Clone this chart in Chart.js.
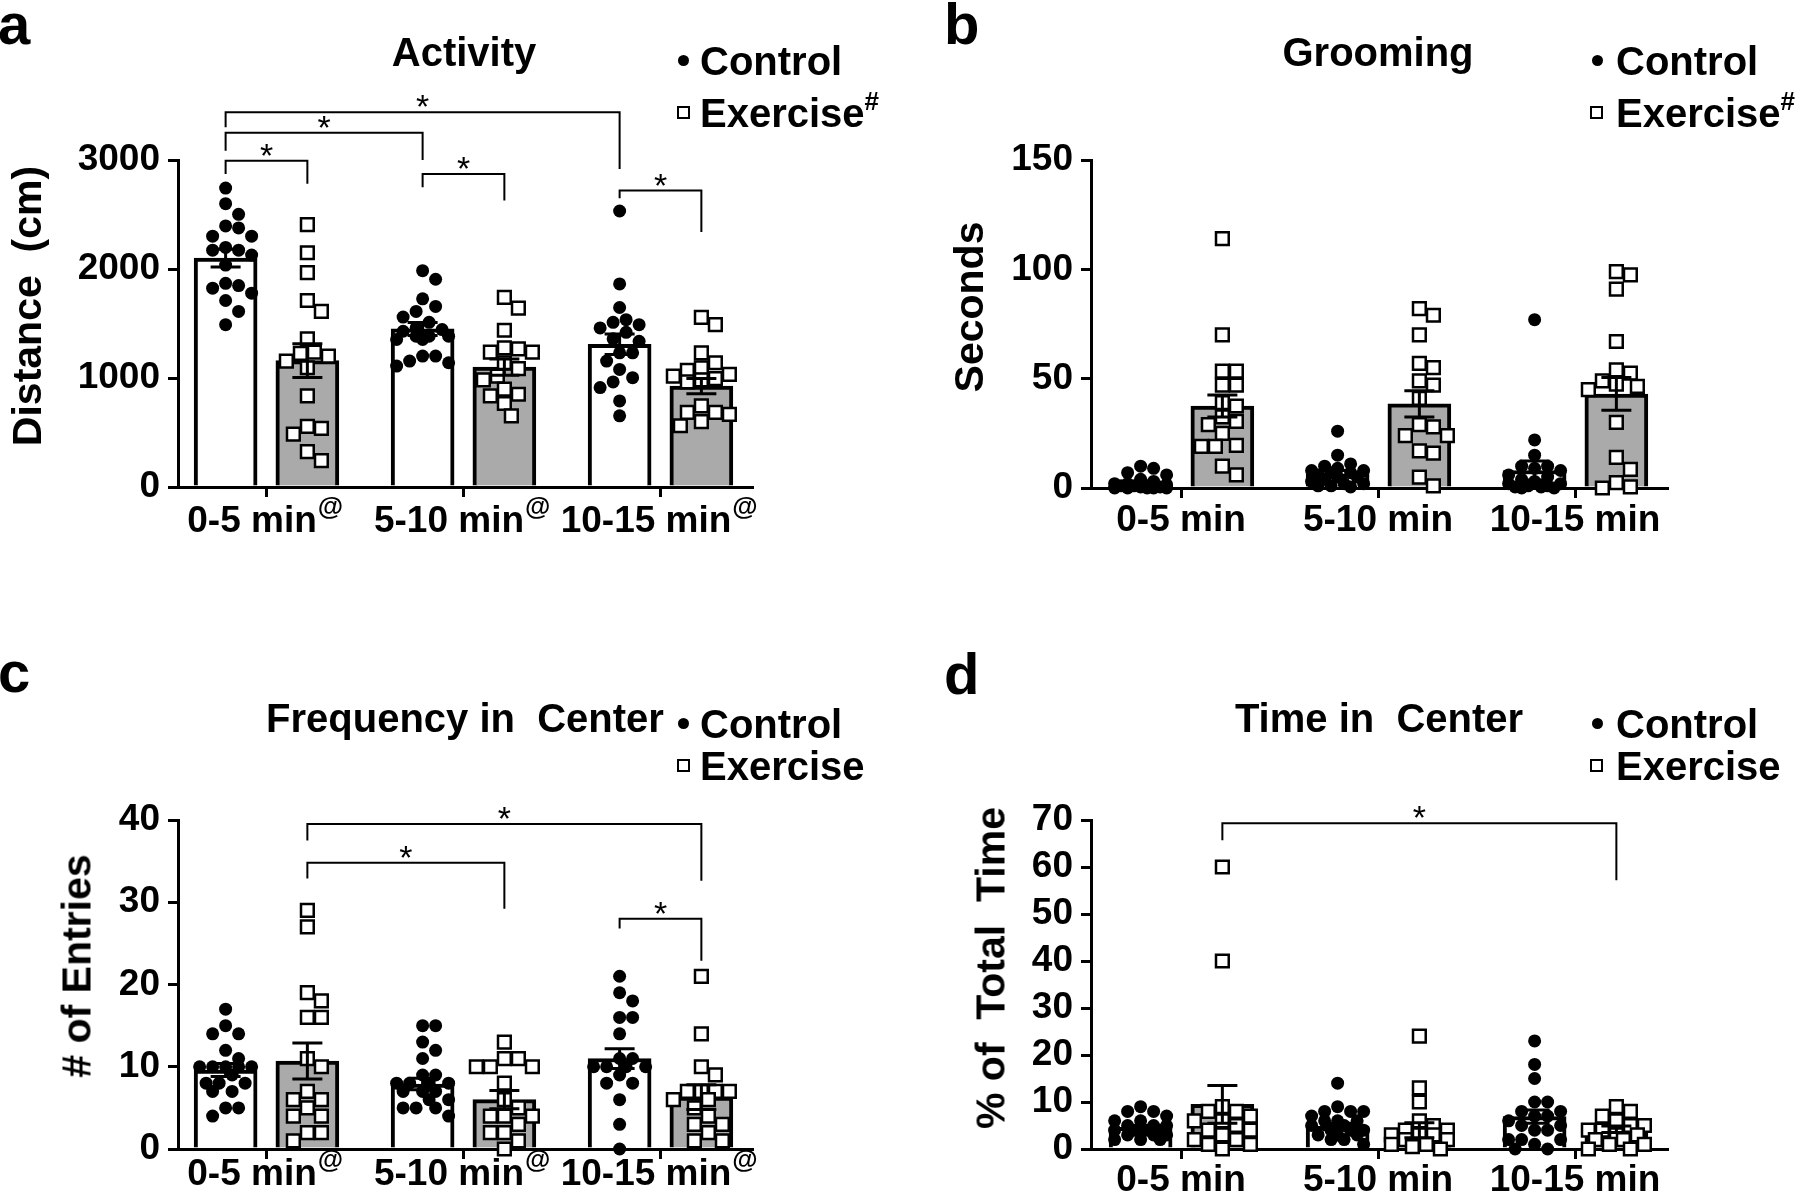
<!DOCTYPE html>
<html>
<head>
<meta charset="utf-8">
<script src="https://cdn.jsdelivr.net/npm/chart.js@4.4.0/dist/chart.umd.min.js"></script>
<style>
  body { margin: 0; background: #fff; }
  #page { position: relative; width: 1800px; height: 1196px; overflow: hidden;
          font-family: "Liberation Sans", Arial, sans-serif; font-weight: bold; color: #000; }
  .panel { position: absolute; }
  .txt { position: absolute; white-space: pre; line-height: 1; }
  .letter { font-size: 58px; }
  .title { font-size: 40px; transform: translateX(-50%); }
  .leg { font-size: 40px; }
  .ytitle { font-size: 41px; transform: translate(-50%, -50%) rotate(-90deg); }
  .sup { font-size: 26px; position: relative; top: -17px; }
  .dot { position: absolute; width: 11px; height: 11px; border-radius: 50%; background: #000; }
  .sq { position: absolute; width: 9px; height: 9px; border: 2px solid #000; background: #fff; }
</style>
</head>
<body>
<div id="page">
  <div class="panel" style="left:0;top:0"><canvas id="chartA" width="900" height="600"></canvas></div>
  <div class="panel" style="left:900px;top:0"><canvas id="chartB" width="900" height="600"></canvas></div>
  <div class="panel" style="left:0;top:640px"><canvas id="chartC" width="900" height="556"></canvas></div>
  <div class="panel" style="left:900px;top:640px"><canvas id="chartD" width="900" height="556"></canvas></div>

  <div class="txt letter" style="left:-2px;top:-5px">a</div>
  <div class="txt letter" style="left:944px;top:-5px">b</div>
  <div class="txt letter" style="left:-2px;top:643px">c</div>
  <div class="txt letter" style="left:944px;top:645px">d</div>

  <div class="txt title" style="left:464px;top:32px">Activity</div>
  <div class="txt title" style="left:1378px;top:32px">Grooming</div>
  <div class="txt title" style="left:465px;top:698px">Frequency in  Center</div>
  <div class="txt title" style="left:1379px;top:698px">Time in  Center</div>

  <div class="dot" style="left:678px;top:55px"></div>
  <div class="txt leg" style="left:700px;top:41px">Control</div>
  <div class="sq" style="left:677px;top:106px"></div>
  <div class="txt leg" style="left:700px;top:93px">Exercise<span class="sup">#</span></div>

  <div class="dot" style="left:1592px;top:55px"></div>
  <div class="txt leg" style="left:1616px;top:41px">Control</div>
  <div class="sq" style="left:1590px;top:106px"></div>
  <div class="txt leg" style="left:1616px;top:93px">Exercise<span class="sup">#</span></div>

  <div class="dot" style="left:678px;top:718px"></div>
  <div class="txt leg" style="left:700px;top:704px">Control</div>
  <div class="sq" style="left:677px;top:759px"></div>
  <div class="txt leg" style="left:700px;top:746px">Exercise</div>

  <div class="dot" style="left:1592px;top:718px"></div>
  <div class="txt leg" style="left:1616px;top:704px">Control</div>
  <div class="sq" style="left:1590px;top:759px"></div>
  <div class="txt leg" style="left:1616px;top:746px">Exercise</div>

  <div class="txt ytitle" style="left:27px;top:306px">Distance  (cm)</div>
  <div class="txt ytitle" style="left:969px;top:307px">Seconds</div>
  <div class="txt ytitle" style="left:77px;top:966px"># of Entries</div>
  <div class="txt ytitle" style="left:991px;top:968px">% of  Total  Time</div>
</div>

<script>
// categories
var groups = ['0-5 min', '5-10 min', '10-15 min'];
var groupPos = [1, 2, 3];

// a - Activity, distance (cm)
var activityControl = [
    [2742, 2599, 2502, 2395, 2377, 2301, 2301, 2198, 2173, 2173, 2128, 2036, 1869, 1848, 1824, 1778, 1711, 1611, 1489],
    [1985, 1906, 1726, 1657, 1611, 1559, 1511, 1460, 1444, 1429, 1383, 1383, 1383, 1353, 1353, 1201, 1201, 1155, 1140, 1109],
    [2532, 1863, 1647, 1535, 1511, 1489, 1459, 1419, 1359, 1337, 1231, 1231, 1155, 1079, 1003, 964, 912, 790, 653]
];
var activityExercise = [
    [2407, 2149, 1967, 1711, 1611, 1359, 1237, 1225, 1200, 1155, 1094, 836, 556, 538, 486, 325, 243],
    [1739, 1641, 1438, 1277, 1267, 1237, 1237, 1140, 1085, 1018, 982, 897, 851, 836, 766, 653],
    [1556, 1489, 1231, 1140, 1094, 1070, 1033, 1018, 994, 982, 964, 745, 684, 684, 666, 599, 562]
];
var activityControlMean = [2100, 1450, 1310];
var activityControlSem = [82, 60, 94];
var activityExerciseMean = [1160, 1100, 925];
var activityExerciseSem = [155, 75, 70];
var activityTicks = [0, 1000, 2000, 3000];
// [from bar, to bar, bracket level, left leg end, right leg end]
var activityBrackets = [
    [0, 4, 3438, 3300, 2918],
    [0, 2, 3250, 3085, 3000],
    [0, 1, 2994, 2872, 2781],
    [2, 3, 2872, 2751, 2629],
    [4, 5, 2720, 2650, 2340]
];

// b - Grooming, seconds
var groomControl = [
    [10, 9, 7, 6, 4, 3, 2, 2, 1.5, 1, 1, 1, 0.5, 0.5, 0, 0, 0, 0, 0],
    [26, 15, 11, 10, 9, 8, 8, 7, 7, 6, 5, 5, 4, 3, 2, 2, 1, 1, 0.5],
    [77, 22, 15, 10, 10, 9, 8, 6, 5, 4, 3, 2, 2, 1, 1, 0.5, 0.5, 0, 0]
];
var groomExercise = [
    [114, 70, 53.5, 53.5, 47, 47, 39, 37.5, 32.5, 30.5, 29, 25, 19.5, 19, 19, 10, 6],
    [82, 79, 70, 57, 55, 49, 47, 41, 29, 28, 24, 24, 17, 16, 5, 1],
    [99, 97.5, 91, 67, 54, 52.5, 49, 47.5, 46.5, 45, 30, 14, 8.5, 2.5, 0.5, 0]
];
var groomControlMean = [2.2, 6.5, 8];
var groomControlSem = [0.7, 1.5, 4.3];
var groomExerciseMean = [37.5, 38.5, 43];
var groomExerciseSem = [5, 6, 7.5];
var groomTicks = [0, 50, 100, 150];

// c - Frequency in center, # of entries
var freqControl = [
    [17, 15, 14, 14, 12, 11, 10, 10, 10, 10, 10, 9, 8, 8, 8, 7, 7, 5, 5, 4],
    [15, 15, 13, 12, 11, 9, 9, 8, 8, 8, 8, 7, 7, 7, 6, 6, 5, 5, 5, 4],
    [21, 19, 18, 16, 16, 14, 11, 11, 10, 10, 10, 10, 9, 8, 8, 6, 3, 0]
];
var freqExercise = [
    [29, 27, 19, 18, 16, 16, 11, 10, 7, 6, 6, 5, 4, 4, 2, 2, 1],
    [13, 11, 11, 10, 10, 10, 8, 6, 5, 4, 4, 4, 3, 2, 2, 1, 0],
    [21, 14, 10, 9, 7, 7, 7, 7, 6, 6, 5, 4, 3, 3, 2, 1, 1]
];
var freqControlMean = [9.6, 7.9, 11.0];
var freqControlSem = [0.8, 0.7, 1.2];
var freqExerciseMean = [10.7, 6.0, 6.3];
var freqExerciseSem = [2.2, 1.1, 1.5];
var freqTicks = [0, 10, 20, 30, 40];
var freqBrackets = [
    [1, 5, 39.5, 37.5, 32.6],
    [1, 3, 34.8, 32.9, 29.2],
    [4, 5, 28.0, 26.8, 22.9]
];

// d - Time in center, % of total time
var timeControl = [
    [9, 8, 8, 7, 6, 6, 5, 5, 5, 4, 4, 4, 4, 4, 3, 3, 3, 2, 2, 2],
    [14, 9, 8, 8, 8, 7, 6, 6, 6, 5, 5, 4, 4, 4, 3, 3, 3, 2, 2, 1],
    [23, 18, 15, 10, 10, 8, 8, 7, 7, 6, 5, 5, 4, 4, 2, 2, 2, 1, 0, 0]
];
var timeExercise = [
    [60, 40, 9, 8, 8, 7, 6, 6, 5, 4, 4, 3, 2, 2, 1, 1, 0],
    [24, 13, 10, 6, 5, 4, 4, 3, 3, 3, 2, 2, 1, 1, 0.5, 0],
    [9, 8, 7, 6, 5, 5, 4, 4, 3, 3, 2, 2, 1, 1, 0, 0]
];
var timeControlMean = [4.6, 4.8, 6.9];
var timeControlSem = [0.4, 0.7, 1.4];
var timeExerciseMean = [9.5, 4.0, 4.2];
var timeExerciseSem = [4.0, 1.6, 0.7];
var timeTicks = [0, 10, 20, 30, 40, 50, 60, 70];
var timeBrackets = [
    [1, 5, 69.3, 65.7, 57.2]
];

// layout
var CTRL_OFF = -0.205;
var EX_OFF = 0.21;
var GROUP_PX = 197;
var FONT = '"Liberation Sans", Arial, sans-serif';

Chart.defaults.font.family = FONT;
Chart.defaults.color = '#000';

function barX(b) {
    return groupPos[Math.floor(b / 2)] + (b % 2 === 0 ? CTRL_OFF : EX_OFF);
}

// simple beeswarm so points of equal value sit side by side
function swarm(vals, pxPerUnit, size, maxHalf) {
    var placed = [];
    var offs = new Array(vals.length);
    var order = vals.map(function (v, i) { return i; })
        .sort(function (a, b) { return vals[b] - vals[a]; });
    var step = size / 2;
    order.forEach(function (i) {
        var y = vals[i] * pxPerUnit;
        var best = 0, bestGap = -1, done = false;
        for (var k = 0; k * step <= maxHalf && !done; k++) {
            var cands = k === 0 ? [0] : [k * step, -k * step];
            for (var c = 0; c < cands.length; c++) {
                var x = cands[c];
                var gap = Infinity;
                placed.forEach(function (p) {
                    gap = Math.min(gap, Math.hypot(p.x - x, p.y - y));
                });
                if (gap >= size) { best = x; done = true; break; }
                if (gap > bestGap) { bestGap = gap; best = x; }
            }
        }
        offs[i] = best;
        placed.push({x: best, y: y});
    });
    return offs;
}

function pointsFor(lists, off, pxPerUnit, size) {
    var out = [];
    lists.forEach(function (vals, g) {
        var offs = swarm(vals, pxPerUnit, size, 28);
        vals.forEach(function (v, i) {
            out.push({x: groupPos[g] + off + offs[i] / GROUP_PX, y: v});
        });
    });
    return out;
}

function extrasPlugin(p) {
    return {
        id: 'extras' + p.id,
        afterDatasetsDraw: function (chart) {
            var ctx = chart.ctx, xs = chart.scales.x, ys = chart.scales.y;
            ctx.save();
            ctx.strokeStyle = '#000';
            ctx.lineWidth = 3;
            [[p.cMean, p.cSem, CTRL_OFF], [p.eMean, p.eSem, EX_OFF]].forEach(function (s) {
                s[0].forEach(function (m, i) {
                    var px = xs.getPixelForValue(groupPos[i] + s[2]);
                    var hi = ys.getPixelForValue(m + s[1][i]);
                    var lo = ys.getPixelForValue(Math.max(0, m - s[1][i]));
                    ctx.beginPath();
                    ctx.moveTo(px, hi); ctx.lineTo(px, lo);
                    ctx.moveTo(px - 15, hi); ctx.lineTo(px + 15, hi);
                    ctx.moveTo(px - 15, lo); ctx.lineTo(px + 15, lo);
                    ctx.stroke();
                });
            });
            // significance brackets
            ctx.lineWidth = 2;
            ctx.fillStyle = '#000';
            ctx.font = '34px ' + FONT;
            ctx.textAlign = 'center';
            ctx.textBaseline = 'alphabetic';
            (p.brackets || []).forEach(function (b) {
                var xa = xs.getPixelForValue(barX(b[0]));
                var xb = xs.getPixelForValue(barX(b[1]));
                var yl = ys.getPixelForValue(b[2]);
                ctx.beginPath();
                ctx.moveTo(xa, ys.getPixelForValue(b[3]));
                ctx.lineTo(xa, yl);
                ctx.lineTo(xb, yl);
                ctx.lineTo(xb, ys.getPixelForValue(b[4]));
                ctx.stroke();
                ctx.fillText('*', (xa + xb) / 2, yl + 6);
            });
            ctx.restore();
        },
        afterDraw: function (chart) {
            if (!p.sup) return;
            var ctx = chart.ctx, xs = chart.scales.x;
            ctx.save();
            var cy = xs.top + 10 + p.labelPad + 22;
            groups.forEach(function (g, i) {
                ctx.font = 'bold 37px ' + FONT;
                var w = ctx.measureText(g).width;
                var px = xs.getPixelForValue(groupPos[i]) - 14 + w / 2 + 1;
                ctx.font = 'bold 26px ' + FONT;
                ctx.fillStyle = '#000';
                ctx.textAlign = 'left';
                ctx.textBaseline = 'middle';
                ctx.fillText(p.sup, px, cy - 14);
            });
            ctx.restore();
        }
    };
}

function makePanel(p) {
    var L = p.layout;
    var yw = L.plotL - L.left;
    var padRight = L.left + L.w - L.plotR;
    var padTop = L.plotT - L.top;
    var xh = L.top + L.h - L.plotB;
    var yMax = p.ticks[p.ticks.length - 1];
    var pxPerUnit = (L.plotB - L.plotT) / yMax;
    var xMin = groupPos[0] - (L.firstGroup - L.plotL) / GROUP_PX;
    var xMax = xMin + (L.plotR - L.plotL) / GROUP_PX;

    var gridOpts = {drawOnChartArea: false, color: '#000', lineWidth: 3, tickLength: 10, offset: false};
    var borderOpts = {color: '#000', width: 3};

    new Chart(document.getElementById(p.canvas), {
        type: 'scatter',
        data: {
            datasets: [
                {
                    type: 'scatter',
                    data: pointsFor(p.cPts, CTRL_OFF, pxPerUnit, 13),
                    pointStyle: 'circle',
                    pointRadius: 6.5,
                    backgroundColor: '#000',
                    borderColor: '#000',
                    borderWidth: 0,
                    clip: false,
                    order: 1
                },
                {
                    type: 'scatter',
                    data: pointsFor(p.ePts, EX_OFF, pxPerUnit, 14),
                    pointStyle: 'rect',
                    pointRadius: 9,
                    backgroundColor: '#fff',
                    borderColor: '#000',
                    borderWidth: 2.5,
                    clip: false,
                    order: 0
                },
                {
                    type: 'bar',
                    data: p.cMean.map(function (m, i) { return {x: groupPos[i] + CTRL_OFF, y: m}; }),
                    backgroundColor: '#fff',
                    borderColor: '#000',
                    borderWidth: 4,
                    barThickness: 63,
                    grouped: false,
                    order: 3
                },
                {
                    type: 'bar',
                    data: p.eMean.map(function (m, i) { return {x: groupPos[i] + EX_OFF, y: m}; }),
                    backgroundColor: '#aaaaaa',
                    borderColor: '#000',
                    borderWidth: 4,
                    barThickness: 63,
                    grouped: false,
                    order: 2
                }
            ]
        },
        options: {
            responsive: false,
            animation: false,
            devicePixelRatio: 1,
            events: [],
            layout: {padding: {top: padTop, right: padRight, left: 0, bottom: 0}},
            plugins: {legend: {display: false}, tooltip: {enabled: false}},
            scales: {
                x: {
                    type: 'linear',
                    min: xMin,
                    max: xMax,
                    offset: false,
                    bounds: 'data',
                    afterBuildTicks: function (s) {
                        s.ticks = groupPos.map(function (v) { return {value: v}; });
                    },
                    afterFit: function (s) { s.height = xh; },
                    ticks: {
                        callback: function (v) { return groups[groupPos.indexOf(v)]; },
                        font: {size: 37, weight: 'bold'},
                        color: '#000',
                        padding: p.labelPad,
                        labelOffset: p.sup ? -14 : 0,
                        autoSkip: false,
                        maxRotation: 0
                    },
                    grid: gridOpts,
                    border: borderOpts
                },
                y: {
                    type: 'linear',
                    min: 0,
                    max: yMax,
                    afterBuildTicks: function (s) {
                        s.ticks = p.ticks.map(function (v) { return {value: v}; });
                    },
                    afterFit: function (s) { s.width = yw; },
                    ticks: {
                        callback: function (v) { return String(v); },
                        font: {size: 37, weight: 'bold'},
                        color: '#000',
                        padding: 8,
                        autoSkip: false
                    },
                    grid: gridOpts,
                    border: borderOpts
                }
            }
        },
        plugins: [extrasPlugin(p)]
    });
}

makePanel({
    id: 'A', canvas: 'chartA',
    layout: {left: 0, top: 0, w: 900, h: 600, plotL: 178, plotR: 752, plotT: 160, plotB: 487, firstGroup: 266},
    cPts: activityControl, ePts: activityExercise,
    cMean: activityControlMean, cSem: activityControlSem,
    eMean: activityExerciseMean, eSem: activityExerciseSem,
    ticks: activityTicks, brackets: activityBrackets, sup: '@', labelPad: 3
});
makePanel({
    id: 'B', canvas: 'chartB',
    layout: {left: 900, top: 0, w: 900, h: 600, plotL: 1091, plotR: 1667, plotT: 160, plotB: 488, firstGroup: 1181},
    cPts: groomControl, ePts: groomExercise,
    cMean: groomControlMean, cSem: groomControlSem,
    eMean: groomExerciseMean, eSem: groomExerciseSem,
    ticks: groomTicks, brackets: [], sup: null, labelPad: 1
});
makePanel({
    id: 'C', canvas: 'chartC',
    layout: {left: 0, top: 640, w: 900, h: 556, plotL: 178, plotR: 752, plotT: 820, plotB: 1149, firstGroup: 266},
    cPts: freqControl, ePts: freqExercise,
    cMean: freqControlMean, cSem: freqControlSem,
    eMean: freqExerciseMean, eSem: freqExerciseSem,
    ticks: freqTicks, brackets: freqBrackets, sup: '@', labelPad: -6
});
makePanel({
    id: 'D', canvas: 'chartD',
    layout: {left: 900, top: 640, w: 900, h: 556, plotL: 1091, plotR: 1667, plotT: 820, plotB: 1149, firstGroup: 1181},
    cPts: timeControl, ePts: timeExercise,
    cMean: timeControlMean, cSem: timeControlSem,
    eMean: timeExerciseMean, eSem: timeExerciseSem,
    ticks: timeTicks, brackets: timeBrackets, sup: null, labelPad: 0
});
</script>
</body>
</html>
